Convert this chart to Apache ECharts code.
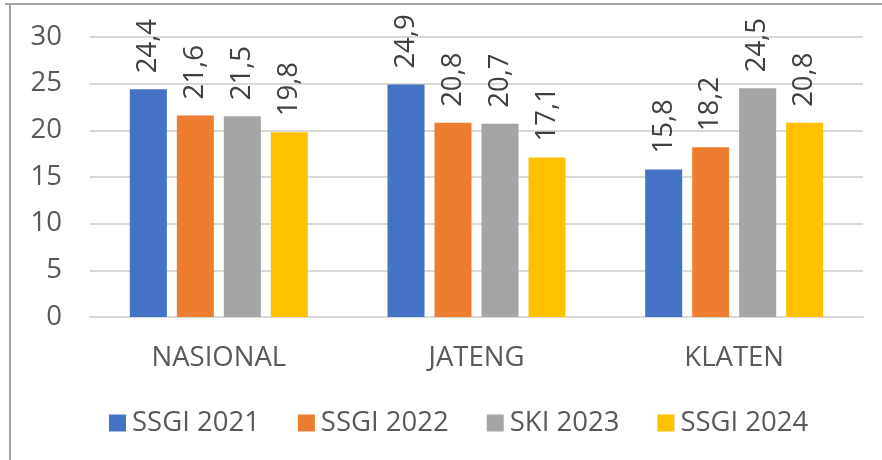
<!DOCTYPE html>
<html>
<head>
<meta charset="utf-8">
<script src="https://cdn.jsdelivr.net/npm/echarts@6/dist/echarts.min.js"></script>
<style>
  html, body { margin: 0; padding: 0; background: #fff; }
  #chart { width: 882px; height: 460px; }
</style>
</head>
<body>
<div id="chart"></div>
<script>
// data
const categories = ['NASIONAL', 'JATENG', 'KLATEN']
const seriesNames = ['SSGI 2021', 'SSGI 2022', 'SKI 2023', 'SSGI 2024']
const ssgi2021 = [24.4, 24.9, 15.8]
const ssgi2022 = [21.6, 20.8, 18.2]
const ski2023 = [21.5, 20.7, 24.5]
const ssgi2024 = [19.8, 17.1, 20.8]
const yTicks = [0, 5, 10, 15, 20, 25, 30]

const colors = ['#4472C4', '#ED7D31', '#A5A5A5', '#FFC000']
const font = '"Open Sans", "Noto Sans", sans-serif'
const fs = 27.5

const chart = echarts.init(document.getElementById('chart'))

function makeSeries(name, data) {
  return {
    name: name,
    type: 'bar',
    data: data,
    barWidth: 37,
    barGap: '27%',
    label: {
      show: true,
      position: 'top',
      rotate: 90,
      align: 'left',
      verticalAlign: 'middle',
      distance: 16,
      color: '#404040',
      fontSize: fs,
      fontFamily: font,
      formatter: p => String(p.value).replace('.', ',')
    }
  }
}

chart.setOption({
  color: colors,
  animation: false,
  grid: {
    left: 90,
    right: 19,
    top: 37,
    bottom: 143,
    containLabel: false
  },
  legend: {
    data: seriesNames,
    left: 104,
    top: 404,
    icon: 'rect',
    itemWidth: 17,
    itemHeight: 17,
    itemGap: 38,
    textStyle: {
      color: '#595959',
      fontSize: fs,
      fontFamily: font,
      padding: [0, 0, 0, 1]
    }
  },
  xAxis: {
    type: 'category',
    data: categories,
    axisTick: { show: false },
    axisLine: { lineStyle: { color: '#d9d9d9', width: 2 } },
    axisLabel: {
      color: '#595959',
      fontSize: fs,
      fontFamily: font,
      margin: 27
    }
  },
  yAxis: {
    type: 'value',
    min: yTicks[0],
    max: yTicks[yTicks.length - 1],
    interval: 5,
    axisLine: { show: false },
    axisTick: { show: false },
    splitLine: { lineStyle: { color: '#d9d9d9', width: 2 } },
    axisLabel: {
      color: '#595959',
      fontSize: fs,
      fontFamily: font,
      margin: 28
    }
  },
  graphic: [
    // frame remains at the top and left of the cropped picture
    { type: 'line', shape: { x1: 5, y1: 4, x2: 882, y2: 4 }, style: { stroke: '#a6a6a6', lineWidth: 2 } },
    { type: 'line', shape: { x1: 10, y1: 4, x2: 10, y2: 460 }, style: { stroke: '#a6a6a6', lineWidth: 2 } }
  ],
  series: [
    makeSeries(seriesNames[0], ssgi2021),
    makeSeries(seriesNames[1], ssgi2022),
    makeSeries(seriesNames[2], ski2023),
    makeSeries(seriesNames[3], ssgi2024)
  ]
})
</script>
</body>
</html>
